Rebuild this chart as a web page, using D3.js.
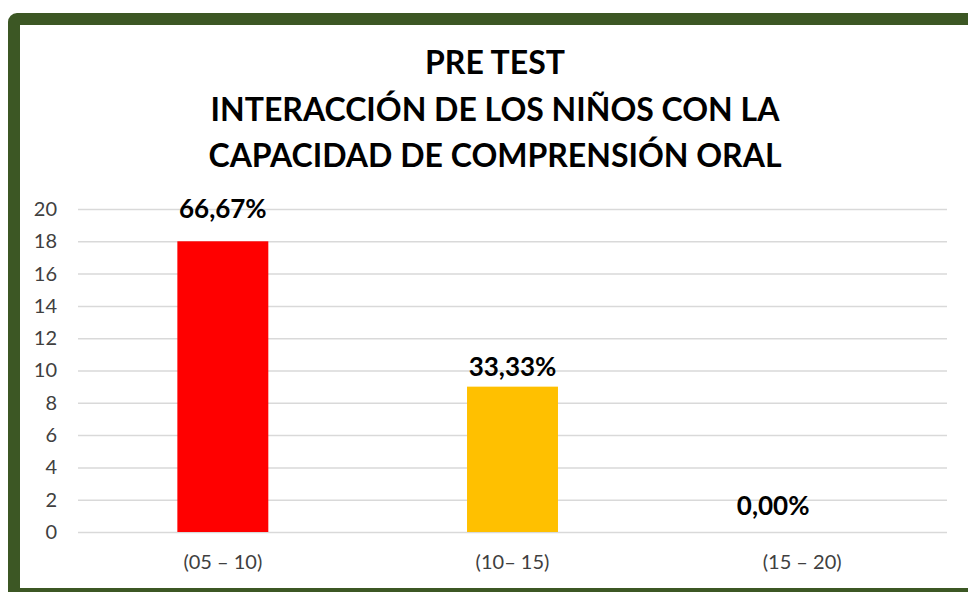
<!DOCTYPE html>
<html>
<head>
<meta charset="utf-8">
<script src="https://cdn.jsdelivr.net/npm/d3@7"></script>
<style>
  html, body { margin: 0; padding: 0; background: #fff; }
  svg { display: block; font-family: Lato, "Open Sans", sans-serif; }
</style>
</head>
<body>
<div id="chart"></div>
<script>
const categories = ["(05 \u2013 10)", "(10\u2013 15)", "(15 \u2013 20)"];
const values = [18, 9, 0];
const percentLabels = ["66,67%", "33,33%", "0,00%"];
const barColors = ["#ff0000", "#ffc000", "#a5a5a5"];
const yTicks = [0, 2, 4, 6, 8, 10, 12, 14, 16, 18, 20];
const titleLines = ["PRE TEST", "INTERACCI\u00d3N DE LOS NI\u00d1OS CON LA", "CAPACIDAD DE COMPRENSI\u00d3N ORAL"];

const width = 968;
const height = 592;

const svg = d3.select("#chart")
  .append("svg")
  .attr("width", width)
  .attr("height", height);

// green frame around the chart
svg.append("rect")
  .attr("x", 14)
  .attr("y", 19)
  .attr("width", 1000)
  .attr("height", 575)
  .attr("rx", 3)
  .attr("fill", "#fff")
  .attr("stroke", "#3c5724")
  .attr("stroke-width", 12);

const plot = { left: 78, right: 947, top: 209, bottom: 532 };

const x = d3.scaleBand()
  .domain(categories)
  .range([plot.left, plot.right])
  .paddingInner(0.686)
  .paddingOuter(0.343);

const y = d3.scaleLinear()
  .domain([0, 20])
  .range([plot.bottom, plot.top]);

// title
svg.append("g")
  .selectAll("text")
  .data(titleLines)
  .join("text")
  .attr("x", 495)
  .attr("y", (d, i) => 74 + i * 46.5)
  .attr("text-anchor", "middle")
  .attr("font-size", 32)
  .attr("font-weight", "bold")
  .attr("fill", "#000")
  .text(d => d);

// gridlines + y labels
const yAxis = d3.axisLeft(y)
  .tickValues(yTicks)
  .tickSize(-(plot.right - plot.left))
  .tickPadding(21);

const gy = svg.append("g")
  .attr("transform", `translate(${plot.left},0)`)
  .call(yAxis);
gy.select(".domain").remove();
gy.selectAll(".tick line")
  .attr("stroke", "#d9d9d9")
  .attr("stroke-width", 1.5);
gy.selectAll(".tick text")
  .attr("font-size", 20)
  .attr("font-family", "Lato, sans-serif")
  .attr("fill", "#404040");

// x labels
const xAxis = d3.axisBottom(x).tickSize(0).tickPadding(23);
const gx = svg.append("g")
  .attr("transform", `translate(0,${plot.bottom})`)
  .call(xAxis);
gx.select(".domain").remove();
gx.selectAll(".tick text")
  .attr("font-size", 20)
  .attr("font-family", "Lato, sans-serif")
  .attr("fill", "#404040");

// bars
svg.append("g")
  .selectAll("rect")
  .data(values)
  .join("rect")
  .attr("x", (d, i) => x(categories[i]))
  .attr("y", d => y(d))
  .attr("width", x.bandwidth())
  .attr("height", d => y(0) - y(d))
  .attr("fill", (d, i) => barColors[i]);

// data labels (placed by hand in the original, so each has its own offset)
const labelShift = [0, 0, -29];
const labelLift = [23, 11, 17];
svg.append("g")
  .selectAll("text")
  .data(values)
  .join("text")
  .attr("x", (d, i) => x(categories[i]) + x.bandwidth() / 2 + labelShift[i])
  .attr("y", (d, i) => y(d) - labelLift[i])
  .attr("text-anchor", "middle")
  .attr("font-size", 26)
  .attr("font-weight", "bold")
  .attr("fill", "#000")
  .text((d, i) => percentLabels[i]);
</script>
</body>
</html>
